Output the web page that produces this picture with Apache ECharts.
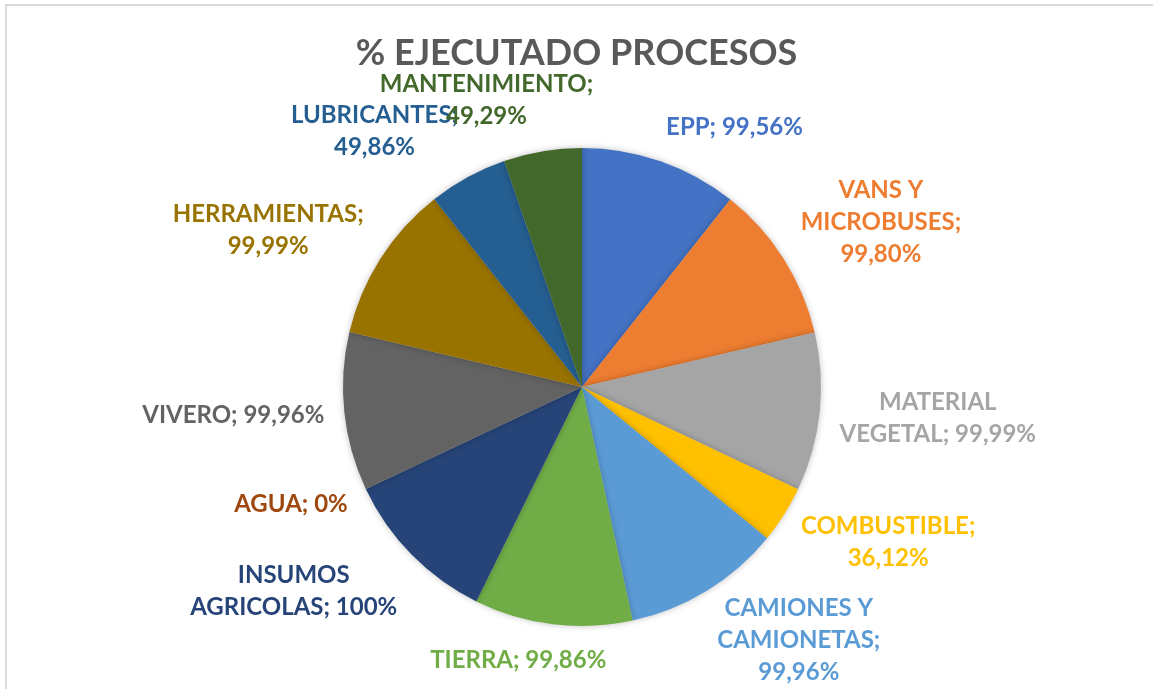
<!DOCTYPE html>
<html>
<head>
<meta charset="utf-8">
<title>% EJECUTADO PROCESOS</title>
<script src="https://cdn.jsdelivr.net/npm/echarts@6/dist/echarts.min.js"></script>
<style>
    html, body { margin: 0; padding: 0; background: #fff; overflow: hidden; }
    #frame {
        position: absolute; left: 5px; top: 4px;
        width: 1200px; height: 720px;
        border: 2px solid #d9d9d9; box-sizing: border-box;
    }
    #chart { position: absolute; left: 0; top: 0; width: 1153px; height: 689px; }
</style>
</head>
<body>
<div id="frame"></div>
<div id="chart"></div>
<script>
// categories as they are wrapped in the original labels
const categories = [
    "EPP", "VANS Y\nMICROBUSES", "MATERIAL\nVEGETAL", "COMBUSTIBLE",
    "CAMIONES Y\nCAMIONETAS", "TIERRA", "INSUMOS\nAGRICOLAS", "AGUA",
    "VIVERO", "HERRAMIENTAS", "LUBRICANTES", "MANTENIMIENTO"
];
const values = [99.56, 99.80, 99.99, 36.12, 99.96, 99.86, 100, 0, 99.96, 99.99, 49.86, 49.29];
// whether the percentage goes on its own line
const valueOnNewLine = [false, true, false, true, true, false, false, false, false, true, true, true];
const colors = [
    "#4472C4", "#ED7D31", "#A5A5A5", "#FFC000", "#5B9BD5", "#70AD47",
    "#264478", "#9E480E", "#636363", "#997300", "#255E91", "#43682B"
];

const FONT = "Lato, Carlito, 'Open Sans', sans-serif";
const CX = 582, CY = 387, R = 239, GAP = 20;
const total = values.reduce((a, b) => a + b, 0);

const fmtValue = (v) => (Number.isInteger(v) ? String(v) : v.toFixed(2).replace(".", ",")) + "%";

const chart = echarts.init(document.getElementById("chart"));

// Excel-like "best fit": anchor just outside the slice middle, box pushed away from the pie,
// and kept inside the chart area
const clamp = (u, k) => Math.max(-1, Math.min(1, u * k));
const placeLabel = (p) => {
    const i = p.dataIndex;
    let before = 0;
    for (let k = 0; k < i; k++) before += values[k];
    const mid = (before + values[i] / 2) / total * 2 * Math.PI;
    const dx = Math.sin(mid), dy = -Math.cos(mid);
    const w = p.labelRect.width, h = p.labelRect.height;
    const ax = CX + dx * (R + GAP), ay = CY + dy * (R + GAP);
    let y = ay + clamp(dy, 1) * h / 2;
    y = Math.min(y, chart.getHeight() - h / 2 - 1);
    return {
        x: ax + clamp(dx, 3) * w / 2,
        y: y,
        align: "center",
        verticalAlign: "middle"
    };
};

const option = {
    animation: false,
    color: colors,
    title: {
        text: "% EJECUTADO PROCESOS",
        left: "center",
        top: 30,
        textStyle: { fontFamily: FONT, fontSize: 36, fontWeight: "bold", color: "#595959" }
    },
    series: [
        {
            type: "pie",
            center: [CX, CY],
            radius: R,
            startAngle: 90,
            clockwise: true,
            avoidLabelOverlap: false,
            data: categories.map((c, i) => ({
                name: c,
                value: values[i],
                label: { color: colors[i] }
            })),
            itemStyle: {
                borderWidth: 0,
                shadowBlur: 6,
                shadowColor: "rgba(0,0,0,0.25)"
            },
            label: {
                show: true,
                position: "outside",
                fontFamily: FONT,
                fontWeight: "bold",
                fontSize: 24,
                lineHeight: 32,
                align: "center",
                formatter: (p) => p.name + ";" + (valueOnNewLine[p.dataIndex] ? "\n" : " ") + fmtValue(p.value)
            },
            labelLine: { show: false },
            labelLayout: placeLabel,
            emphasis: { disabled: true }
        }
    ]
};

chart.setOption(option);
</script>
</body>
</html>
